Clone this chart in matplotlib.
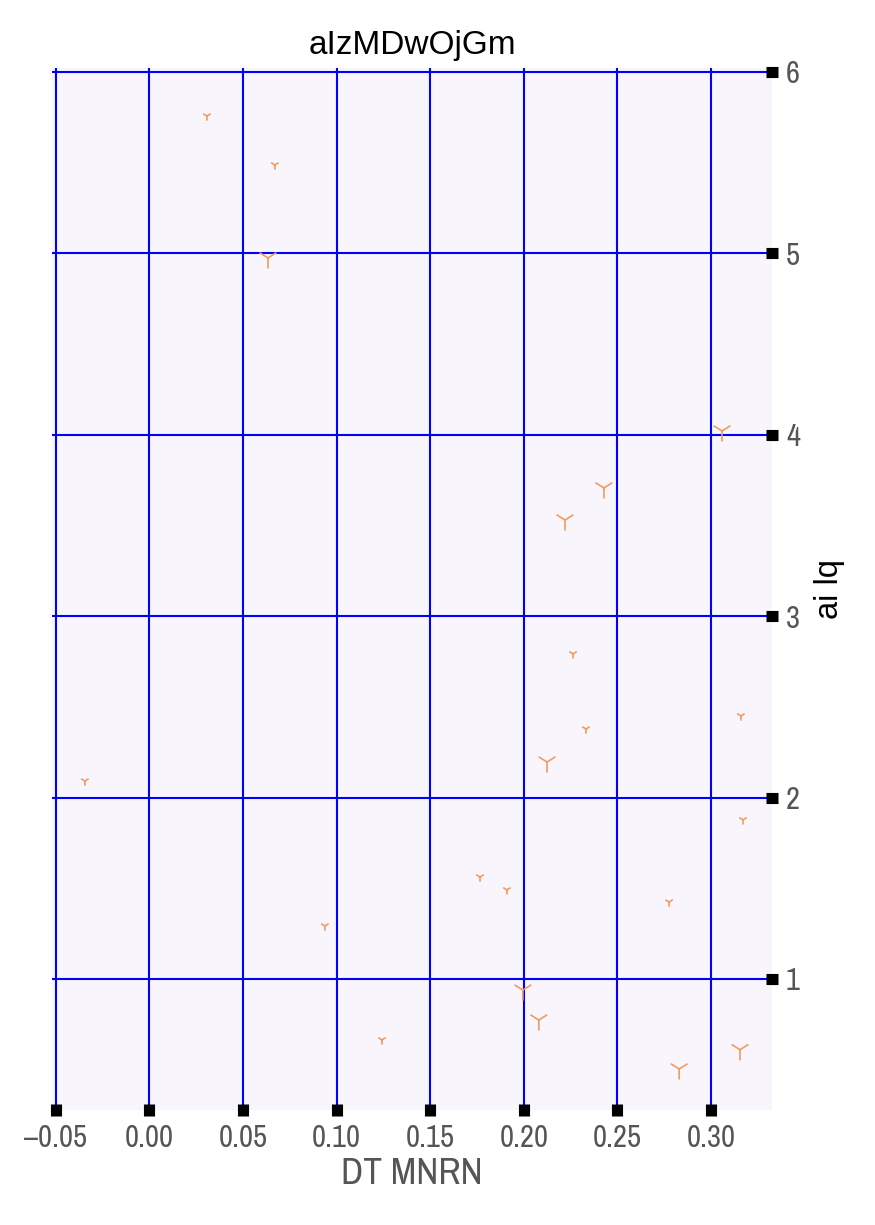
import matplotlib
matplotlib.use("Agg")
import matplotlib.pyplot as plt
from matplotlib import font_manager

# values
x_vals = [0.0307, 0.067, 0.0633, 0.3059, 0.2428, 0.222, 0.2263, 0.316, 0.2332, 0.2124,
          -0.0345, 0.3171, 0.1766, 0.191, 0.2776, 0.0937, 0.1995, 0.208, 0.1242, 0.3155, 0.283]
y_vals = [5.757, 5.487, 4.975, 4.021, 3.707, 3.53, 2.792, 2.45, 2.378, 2.196,
          2.091, 1.877, 1.562, 1.491, 1.424, 1.292, 0.939, 0.774, 0.664, 0.61, 0.504]
sizes = [45, 45, 230, 230, 230, 230, 45, 45, 45, 230,
         45, 45, 45, 45, 45, 45, 230, 230, 45, 230, 230]
x_ticks = [-0.05, 0.00, 0.05, 0.10, 0.15, 0.20, 0.25, 0.30]
y_ticks = [1, 2, 3, 4, 5, 6]

plt.rcParams['font.family'] = ['Liberation Sans', 'DejaVu Sans']
names = sorted({f.name for f in font_manager.fontManager.ttflist})
narrow = [n for n in names if "Narrow" in n or "Condensed" in n] + ['Liberation Sans', 'DejaVu Sans']

fig = plt.figure(figsize=(8.75, 12.25), dpi=100)
ax = fig.add_axes([0.0594, 0.0939, 0.8229, 0.8506])
ax.set_facecolor("#f8f6fc")

ax.scatter(x_vals, y_vals, s=sizes, marker="1", color="#f59a5a", linewidths=1.2, zorder=3)

ax.set_xlim(-0.0521, 0.3326)
ax.set_ylim(0.278, 6.022)
ax.set_xticks(x_ticks)
ax.set_xticklabels([f"{t:.2f}".replace("-", "\u2013") for t in x_ticks])
ax.set_yticks(y_ticks)

ax.grid(True, color="#0000ff", linewidth=1.5, zorder=1)
ax.set_axisbelow(True)
for s in ax.spines.values():
    s.set_visible(False)

ax.yaxis.tick_right()
ax.yaxis.set_label_position("right")
ax.tick_params(direction="inout", length=8, width=8, color="black",
               labelsize=22, labelcolor="#555555", pad=6)
for lab in ax.get_xticklabels() + ax.get_yticklabels():
    lab.set_family(narrow)

ax.set_title("aIzMDwOjGm", fontsize=24, color="black", pad=10)
ax.set_xlabel("DT MNRN", fontsize=27, color="#555555", labelpad=4, family=narrow)
ax.set_ylabel("ai lq", fontsize=23.5, color="black", labelpad=10)

fig.savefig("out.png", dpi=100)
